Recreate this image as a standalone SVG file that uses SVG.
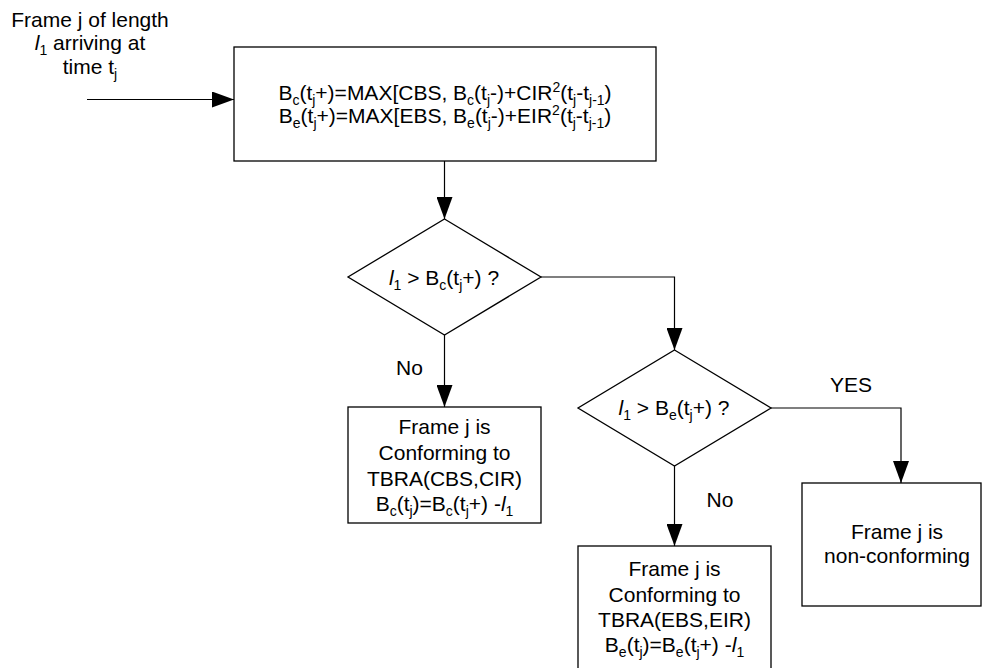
<svg xmlns="http://www.w3.org/2000/svg" width="982" height="668" viewBox="0 0 982 668">
  <style>
    .bg { fill: #ffffff; }
    .box { fill: #ffffff; stroke: #000000; stroke-width: 1.3; }
    .line { fill: none; stroke: #000000; stroke-width: 1.2; }
    text { font-family: "Liberation Sans", Arial, sans-serif; font-size: 21px; fill: #000000; text-anchor: middle; }
    .s { font-size: 14px; }
    .i { font-style: italic; }
  </style>
  <defs>
    <marker id="arrow" markerWidth="22" markerHeight="16" refX="22" refY="8" orient="auto" markerUnits="userSpaceOnUse">
      <path d="M0,0 L22,8 L0,16 Z" fill="#000000"/>
    </marker>
  </defs>
  <rect class="bg" x="0" y="0" width="982" height="668"/>

  <!-- incoming frame label -->
  <g id="input-label">
    <text x="90" y="26.5">Frame j of length</text>
    <text x="90" y="50"><tspan class="i">l</tspan><tspan class="s" dy="5">1</tspan><tspan dy="-5"> arriving at</tspan></text>
    <text x="90" y="74">time t<tspan class="s" dy="5">j</tspan></text>
  </g>

  <!-- bucket update -->
  <g id="update">
    <rect class="box" x="234" y="47" width="422" height="114"/>
    <text x="445" y="100">B<tspan class="s" dy="5">c</tspan><tspan dy="-5">(t</tspan><tspan class="s" dy="5">j</tspan><tspan dy="-5">+)=MAX[CBS, B</tspan><tspan class="s" dy="5">c</tspan><tspan dy="-5">(t</tspan><tspan class="s" dy="5">j</tspan><tspan dy="-5">-)+CIR</tspan><tspan class="s" dy="-8">2</tspan><tspan dy="8">(t</tspan><tspan class="s" dy="5">j</tspan><tspan dy="-5">-t</tspan><tspan class="s" dy="5">j-1</tspan><tspan dy="-5">)</tspan></text>
    <text x="445" y="123">B<tspan class="s" dy="5">e</tspan><tspan dy="-5">(t</tspan><tspan class="s" dy="5">j</tspan><tspan dy="-5">+)=MAX[EBS, B</tspan><tspan class="s" dy="5">e</tspan><tspan dy="-5">(t</tspan><tspan class="s" dy="5">j</tspan><tspan dy="-5">-)+EIR</tspan><tspan class="s" dy="-8">2</tspan><tspan dy="8">(t</tspan><tspan class="s" dy="5">j</tspan><tspan dy="-5">-t</tspan><tspan class="s" dy="5">j-1</tspan><tspan dy="-5">)</tspan></text>
  </g>

  <!-- committed bucket test -->
  <g id="test-c">
    <polygon class="box" points="444.5,219 541,277 444.5,335 348,277"/>
    <text x="444" y="285"><tspan class="i">l</tspan><tspan class="s" dy="5">1</tspan><tspan dy="-5"> &gt; B</tspan><tspan class="s" dy="5">c</tspan><tspan dy="-5">(t</tspan><tspan class="s" dy="5">j</tspan><tspan dy="-5">+) ?</tspan></text>
  </g>

  <!-- conforming to CBS/CIR -->
  <g id="conform-c">
    <rect class="box" x="348" y="407" width="193" height="116"/>
    <text x="444.5" y="434">Frame j is</text>
    <text x="444.5" y="460">Conforming to</text>
    <text x="444.5" y="486">TBRA(CBS,CIR)</text>
    <text x="444.5" y="511">B<tspan class="s" dy="5">c</tspan><tspan dy="-5">(t</tspan><tspan class="s" dy="5">j</tspan><tspan dy="-5">)=B</tspan><tspan class="s" dy="5">c</tspan><tspan dy="-5">(t</tspan><tspan class="s" dy="5">j</tspan><tspan dy="-5">+) -</tspan><tspan class="i">l</tspan><tspan class="s" dy="5">1</tspan></text>
  </g>

  <!-- excess bucket test -->
  <g id="test-e">
    <polygon class="box" points="674.5,350 771,408 674.5,466 578,408"/>
    <text x="674" y="415"><tspan class="i">l</tspan><tspan class="s" dy="5">1</tspan><tspan dy="-5"> &gt; B</tspan><tspan class="s" dy="5">e</tspan><tspan dy="-5">(t</tspan><tspan class="s" dy="5">j</tspan><tspan dy="-5">+) ?</tspan></text>
  </g>

  <!-- conforming to EBS/EIR -->
  <g id="conform-e">
    <rect class="box" x="578" y="546" width="193" height="124"/>
    <text x="674.5" y="576">Frame j is</text>
    <text x="674.5" y="601.5">Conforming to</text>
    <text x="674.5" y="627">TBRA(EBS,EIR)</text>
    <text x="674.5" y="652">B<tspan class="s" dy="5">e</tspan><tspan dy="-5">(t</tspan><tspan class="s" dy="5">j</tspan><tspan dy="-5">)=B</tspan><tspan class="s" dy="5">e</tspan><tspan dy="-5">(t</tspan><tspan class="s" dy="5">j</tspan><tspan dy="-5">+) -</tspan><tspan class="i">l</tspan><tspan class="s" dy="5">1</tspan></text>
  </g>

  <!-- non-conforming -->
  <g id="nonconform">
    <rect class="box" x="802" y="483" width="179" height="123"/>
    <text x="897" y="539">Frame j is</text>
    <text x="897" y="563">non-conforming</text>
  </g>

  <!-- connectors -->
  <g id="connectors">
    <path class="line" d="M87,99.5 H234" marker-end="url(#arrow)"/>
    <path class="line" d="M444.5,161 V219" marker-end="url(#arrow)"/>
    <path class="line" d="M444.5,335 V407" marker-end="url(#arrow)"/>
    <path class="line" d="M541,277 H674.5 V350" marker-end="url(#arrow)"/>
    <path class="line" d="M674.5,466 V546" marker-end="url(#arrow)"/>
    <path class="line" d="M771,408 H901 V483" marker-end="url(#arrow)"/>
    <text x="409.5" y="375">No</text>
    <text x="720" y="506.5">No</text>
    <text x="851" y="391.5">YES</text>
  </g>
</svg>
